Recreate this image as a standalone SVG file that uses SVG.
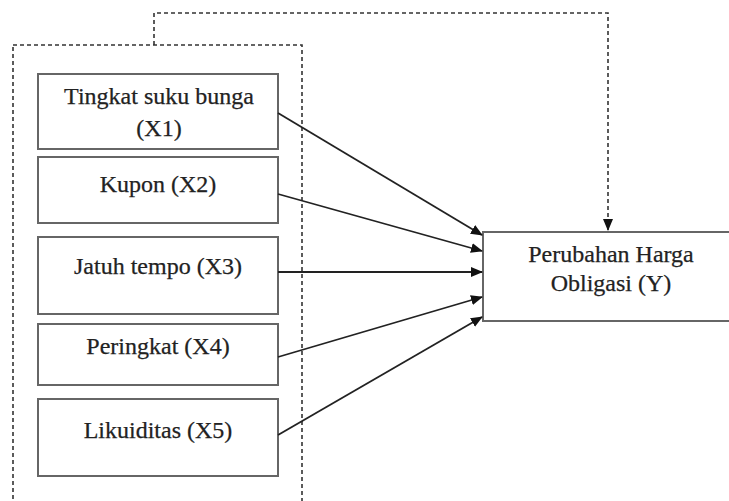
<svg xmlns="http://www.w3.org/2000/svg" width="729" height="501" viewBox="0 0 729 501">
<style>
.box{fill:#fff;stroke:#666;stroke-width:2}
.dash{fill:none;stroke:#333;stroke-width:1.6;stroke-dasharray:4 3}
.conn{fill:none;stroke:#222;stroke-width:1.8}
.t{font-family:'Liberation Serif','DejaVu Serif',serif;font-size:24px;fill:#222;stroke:#222;stroke-width:0.25;text-anchor:middle}
</style>
<defs>
<marker id="ah" markerWidth="12" markerHeight="10" refX="11" refY="5" orient="auto" markerUnits="userSpaceOnUse">
<path d="M0,0 L12,5 L0,10 Z" fill="#111"/>
</marker>
</defs>
<rect width="729" height="501" fill="#fff"/>
<g id="group-box">
<rect class="dash" x="13" y="45" width="289" height="470"/>
</g>
<g id="x1"><rect class="box" x="38" y="74" width="240" height="75"/><text class="t" x="159" y="104">Tingkat suku bunga</text><text class="t" x="159" y="136">(X1)</text></g>
<g id="x2"><rect class="box" x="38" y="157" width="240" height="66"/><text class="t" x="158" y="192">Kupon (X2)</text></g>
<g id="x3"><rect class="box" x="38" y="237" width="240" height="77"/><text class="t" x="158" y="274">Jatuh tempo (X3)</text></g>
<g id="x4"><rect class="box" x="38" y="324" width="240" height="61"/><text class="t" x="158" y="354">Peringkat (X4)</text></g>
<g id="x5"><rect class="box" x="38" y="399" width="240" height="77"/><text class="t" x="158" y="438">Likuiditas (X5)</text></g>
<g id="y"><rect class="box" x="483" y="232" width="260" height="89"/><text class="t" x="611" y="262">Perubahan Harga</text><text class="t" x="611" y="291">Obligasi (Y)</text></g>
<g id="connectors">
<line class="conn" x1="278" y1="113" x2="482" y2="235" marker-end="url(#ah)"/>
<line class="conn" x1="278" y1="194" x2="482" y2="251" marker-end="url(#ah)"/>
<line class="conn" x1="278" y1="272" x2="482" y2="272" marker-end="url(#ah)"/>
<line class="conn" x1="278" y1="357" x2="482" y2="297" marker-end="url(#ah)"/>
<line class="conn" x1="278" y1="435" x2="482" y2="317" marker-end="url(#ah)"/>
<path class="dash" d="M154,45 V13 H608 V230" marker-end="url(#ah)"/>
</g>
</svg>
